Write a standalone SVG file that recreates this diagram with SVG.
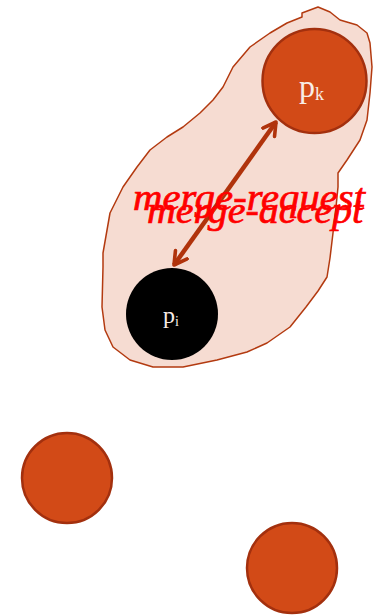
<svg xmlns="http://www.w3.org/2000/svg" width="376" height="615" viewBox="0 0 376 615">
<style>
.node{fill:#d24a17;stroke:#a3300e;stroke-width:2.5}
.lbl{font-family:"Liberation Serif","DejaVu Serif",serif;fill:#f8ece6}
.msg{font-family:"Liberation Serif","DejaVu Serif",serif;font-style:italic;fill:#ff0000;stroke:#ff0000;stroke-width:0.7;font-size:38px}
</style>
<defs>
<marker id="ah" viewBox="0 0 10 10" refX="8" refY="5" markerWidth="4" markerHeight="4" orient="auto-start-reverse" markerUnits="strokeWidth">
<path d="M1,1 L8,5 L1,9" fill="none" stroke="#b0330c" stroke-width="2" stroke-linecap="round" stroke-linejoin="round"/>
</marker>
</defs>
<rect width="376" height="615" fill="#ffffff"/>
<g id="cluster">
<path d="M302,13 L318,7 L330,12 L340,20 L357,25 L367,33 L370,43 L372,67 L370,93 L367,120 L360,140 L347,160 L338,173 L338,187 L336,207 L333,233 L330,258 L327,277 L318,291 L306,307 L290,327 L267,343 L247,352 L217,360 L183,367 L153,367 L130,360 L113,347 L105,330 L102,307 L103,267 L103,253 L110,213 L123,187 L137,167 L150,150 L167,137 L183,127 L200,113 L213,100 L223,87 L233,67 L250,47 L270,33 L287,23 L302,17 Z" fill="#f6dcd2" stroke="#b33a10" stroke-width="1.5" stroke-linejoin="round"/>
</g>
<g id="connectors">
<line x1="174" y1="265" x2="276" y2="122" stroke="#b0330c" stroke-width="4.5" marker-start="url(#ah)" marker-end="url(#ah)"/>
</g>
<g id="pk">
<circle class="node" cx="314.5" cy="81" r="52"/>
<text class="lbl" x="299" y="97" font-size="32">p<tspan font-size="18" dy="3">k</tspan></text>
</g>
<g id="pi">
<circle cx="172" cy="314" r="46" fill="#000000"/>
<text class="lbl" x="163" y="323" font-size="24">p<tspan font-size="14" dy="3">i</tspan></text>
</g>
<g id="n3">
<circle class="node" cx="67" cy="478" r="45"/>
</g>
<g id="n4">
<circle class="node" cx="292" cy="568" r="45"/>
</g>
<g id="labels">
<text class="msg" x="133" y="210" textLength="232" lengthAdjust="spacingAndGlyphs">merge-request</text>
<text class="msg" x="147" y="223" textLength="216" lengthAdjust="spacingAndGlyphs">merge-accept</text>
</g>
</svg>
